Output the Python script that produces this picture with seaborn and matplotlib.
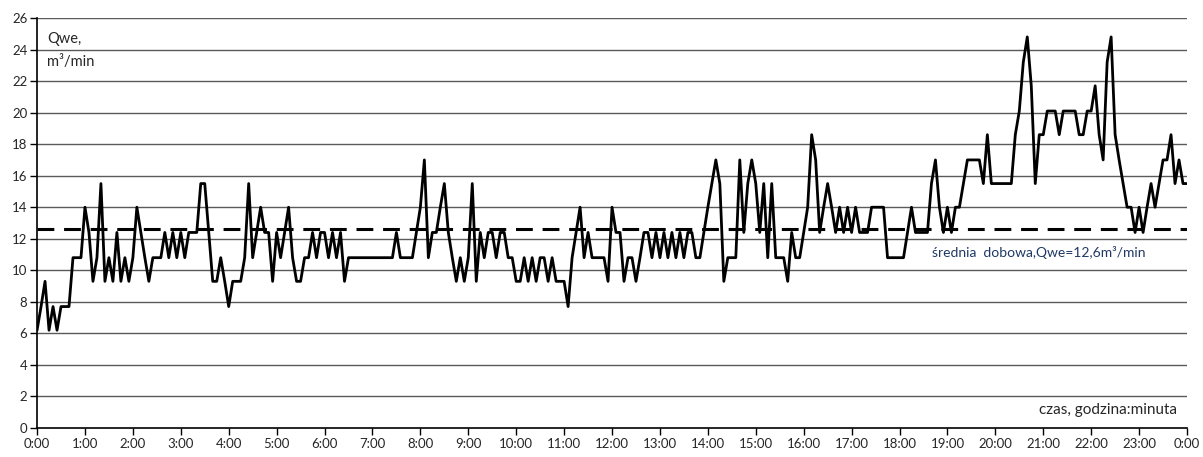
import numpy as np
import pandas as pd
import matplotlib
matplotlib.use("Agg")
import matplotlib.pyplot as plt
import seaborn as sns

# flow readings every 5 minutes, one row per hour (m3/min)
qwe = [
    6.2, 7.7, 9.3, 6.2, 7.7, 6.2, 7.7, 7.7, 7.7, 10.8, 10.8, 10.8,          # 0
    14.0, 12.4, 9.3, 10.8, 15.5, 9.3, 10.8, 9.3, 12.4, 9.3, 10.8, 9.3,     # 1
    10.8, 14.0, 12.4, 10.8, 9.3, 10.8, 10.8, 10.8, 12.4, 10.8, 12.4, 10.8, # 2
    12.4, 10.8, 12.4, 12.4, 12.4, 15.5, 15.5, 12.4, 9.3, 9.3, 10.8, 9.3,   # 3
    7.7, 9.3, 9.3, 9.3, 10.8, 15.5, 10.8, 12.4, 14.0, 12.4, 12.4, 9.3,     # 4
    12.4, 10.8, 12.4, 14.0, 10.8, 9.3, 9.3, 10.8, 10.8, 12.4, 10.8, 12.4,  # 5
    12.4, 10.8, 12.4, 10.8, 12.4, 9.3, 10.8, 10.8, 10.8, 10.8, 10.8, 10.8, # 6
    10.8, 10.8, 10.8, 10.8, 10.8, 10.8, 12.4, 10.8, 10.8, 10.8, 10.8, 12.4, # 7
    14.0, 17.0, 10.8, 12.4, 12.4, 14.0, 15.5, 12.4, 10.8, 9.3, 10.8, 9.3,  # 8
    10.8, 15.5, 9.3, 12.4, 10.8, 12.4, 12.4, 10.8, 12.4, 12.4, 10.8, 10.8, # 9
    9.3, 9.3, 10.8, 9.3, 10.8, 9.3, 10.8, 10.8, 9.3, 10.8, 9.3, 9.3,       # 10
    9.3, 7.7, 10.8, 12.4, 14.0, 10.8, 12.4, 10.8, 10.8, 10.8, 10.8, 9.3,   # 11
    14.0, 12.4, 12.4, 9.3, 10.8, 10.8, 9.3, 10.8, 12.4, 12.4, 10.8, 12.4,  # 12
    10.8, 12.4, 10.8, 12.4, 10.8, 12.4, 10.8, 12.4, 12.4, 10.8, 10.8, 12.4, # 13
    14.0, 15.5, 17.0, 15.5, 9.3, 10.8, 10.8, 10.8, 17.0, 12.4, 15.5, 17.0, # 14
    15.5, 12.4, 15.5, 10.8, 15.5, 10.8, 10.8, 10.8, 9.3, 12.4, 10.8, 10.8, # 15
    12.4, 14.0, 18.6, 17.0, 12.4, 14.0, 15.5, 14.0, 12.4, 14.0, 12.4, 14.0, # 16
    12.4, 14.0, 12.4, 12.4, 12.4, 14.0, 14.0, 14.0, 14.0, 10.8, 10.8, 10.8, # 17
    10.8, 10.8, 12.4, 14.0, 12.4, 12.4, 12.4, 12.4, 15.5, 17.0, 14.0, 12.4, # 18
    14.0, 12.4, 14.0, 14.0, 15.5, 17.0, 17.0, 17.0, 17.0, 15.5, 18.6, 15.5, # 19
    15.5, 15.5, 15.5, 15.5, 15.5, 18.6, 20.1, 23.2, 24.8, 21.7, 15.5, 18.6, # 20
    18.6, 20.1, 20.1, 20.1, 18.6, 20.1, 20.1, 20.1, 20.1, 18.6, 18.6, 20.1, # 21
    20.1, 21.7, 18.6, 17.0, 23.2, 24.8, 18.6, 17.0, 15.5, 14.0, 14.0, 12.4, # 22
    14.0, 12.4, 14.0, 15.5, 14.0, 15.5, 17.0, 17.0, 18.6, 15.5, 17.0, 15.5, # 23
    15.5,
]
mean_qwe = 12.6
hour_labels = [f"{h % 24}:00" for h in range(25)]
y_ticks = list(range(0, 27, 2))

df = pd.DataFrame({"hour": np.arange(len(qwe)) / 12, "qwe": qwe})

sns.set_style("white")
plt.rcParams["font.family"] = ["Lato", "DejaVu Sans"]

fig = plt.figure(figsize=(12.03, 4.57), dpi=100)
ax = fig.add_axes([0.0308, 0.0635, 0.9559, 0.8971])

for y in y_ticks[1:]:
    ax.axhline(y, color="#5a5a5a", lw=1.0, zorder=1)

sns.lineplot(data=df, x="hour", y="qwe", ax=ax, color="black", lw=2.0, zorder=3)
ax.axhline(mean_qwe, color="black", lw=2.2, dashes=(5.5, 3.2), zorder=2)

ax.set_xlim(0, 24)
ax.set_ylim(0, 26)
ax.set_xticks(range(25))
ax.set_xticklabels(hour_labels, fontsize=9.5)
ax.set_yticks(y_ticks)
ax.set_yticklabels([str(v) for v in y_ticks], fontsize=9.5)
ax.set_xlabel("")
ax.set_ylabel("")
ax.tick_params(axis="both", length=5, width=1, color="black", direction="out",
               bottom=True, left=True, pad=2)

for side in ["top", "right"]:
    ax.spines[side].set_visible(False)
for side in ["left", "bottom"]:
    ax.spines[side].set_color("black")
    ax.spines[side].set_linewidth(1.2)

ax.text(0.21, 24.7, "Qwe,", fontsize=10.5, va="center", ha="left")
ax.text(0.21, 23.2, "m³/min", fontsize=10.5, va="center", ha="left")
ax.text(23.79, 1.15, "czas, godzina:minuta", fontsize=11, va="center", ha="right")
ax.text(18.68, 11.1, "średnia  dobowa,Qwe=12,6m³/min", fontsize=10,
        va="center", ha="left", color="#1f3864")

fig.savefig("out.png", dpi=100)
